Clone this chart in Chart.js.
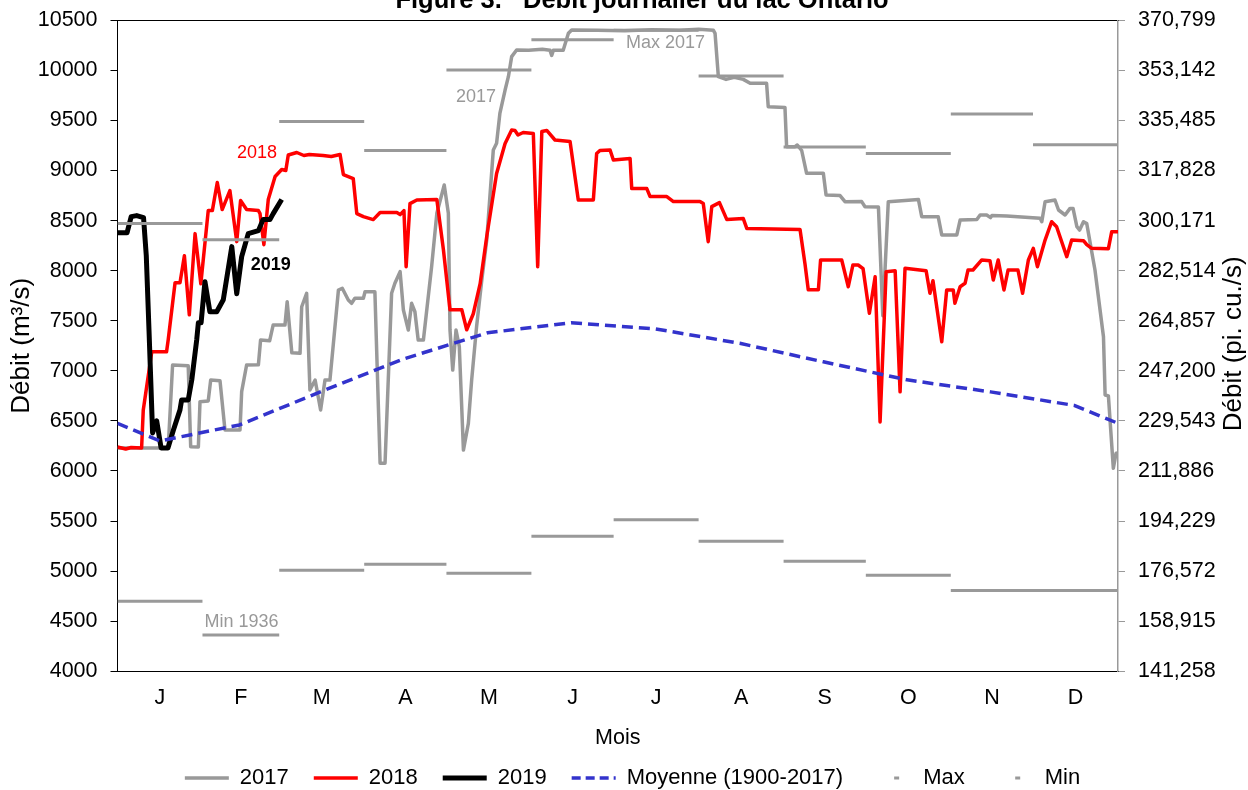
<!DOCTYPE html>
<html>
<head>
<meta charset="utf-8">
<title>Débit journalier du lac Ontario</title>
<script src="https://cdn.jsdelivr.net/npm/chart.js@4/dist/chart.umd.min.js"></script>
<style>
  html, body { margin: 0; padding: 0; background: #fff; overflow: hidden; }
  canvas { display: block; }
</style>
</head>
<body>
<canvas id="flowChart" width="1248" height="790"></canvas>
<script>
// Axis labels
const monthLabels = ['J', 'F', 'M', 'A', 'M', 'J', 'J', 'A', 'S', 'O', 'N', 'D'];
const monthStarts = [0, 31, 59, 90, 120, 151, 181, 212, 243, 273, 304, 334, 365];
const rightTickLabels = ['141,258', '158,915', '176,572', '194,229', '211,886', '229,543', '247,200',
    '264,857', '282,514', '300,171', '317,828', '335,485', '353,142', '370,799'];

// 2017 daily flow (m3/s), day of year
const days2017 = [0, 9.4, 18.5, 20.1, 25.8, 26.7, 29.5, 30.1, 33.1, 34,
    37.4, 39.2, 44.7, 45.3, 47.1, 51.4, 52.2, 55.5, 56.8, 61.1,
    61.9, 63.6, 66.6, 67.2, 69, 70.2, 72.1, 74.1, 75.7, 77.5,
    80.6, 82, 84.2, 85.4, 86.6, 89.7, 90.3, 93.9, 95.8, 97.6,
    100, 101.2, 103.1, 104.3, 106.1, 107.3, 108.5, 109.7, 111.6, 114.6,
    116.5, 119.2, 120.7, 121.3, 122.3, 123.5, 124.7, 126.2, 128, 129.2,
    131, 132.9, 134.7, 137.1, 138.3, 139.5, 141.4, 142.6, 143.8, 145.6,
    150, 155, 157.8, 158.4, 159, 162.6, 164.5, 165.7, 175, 185,
    195, 205, 212, 217.4, 218, 219.2, 222, 225, 228.3, 230.8,
    236.8, 237.4, 243.5, 244.1, 247.2, 248, 249.6, 251.4, 257.5, 258.5,
    263.6, 265.4, 271.5, 272.7, 277.6, 279.2, 281.2, 292.2, 293.4, 299.4,
    300.7, 306.2, 307.4, 313.5, 314.7, 317.1, 318.5, 319, 324.4, 336.6,
    337.2, 338.4, 342, 343.3, 345.7, 347.5, 348.6, 350, 351, 352.4,
    353.6, 356.6, 359.7, 360.3, 361.5, 363.3, 364.3, 365];
const flow2017 = [6230, 6230, 6230, 7058, 7050, 6242, 6240, 6692, 6700, 6908,
    6900, 6410, 6410, 6792, 7058, 7060, 7308, 7300, 7458, 7458,
    7690, 7180, 7175, 7640, 7774, 6809, 6908, 6609, 6908, 6908,
    7807, 7824, 7707, 7674, 7724, 7724, 7790, 7790, 6077, 6077,
    7774, 7874, 7990, 7607, 7408, 7674, 7590, 7308, 7308, 8040,
    8573, 8856, 8573, 7408, 7008, 7408, 7241, 6209, 6476, 6908,
    7441, 7907, 8306, 9205, 9272, 9571, 9804, 9937, 10137, 10203,
    10200, 10210, 10200, 10150, 10200, 10200, 10370, 10403, 10400, 10395,
    10405, 10400, 10410, 10400, 10370, 9937, 9910, 9930, 9910, 9871,
    9871, 9637, 9630, 9238, 9238, 9255, 9200, 8972, 8972, 8756,
    8750, 8689, 8690, 8639, 8635, 7550, 8689, 8710, 8539, 8539,
    8357, 8357, 8506, 8510, 8556, 8556, 8530, 8550, 8545, 8523,
    8489, 8689, 8706, 8606, 8556, 8622, 8622, 8439, 8406, 8489,
    8470, 8007, 7341, 6759, 6750, 6027, 6177, 6180];

// 2018 daily flow
const days2018 = [0, 3, 5, 8.8, 9.4, 12.5, 17.9, 18.5, 21, 22.8,
    24.4, 26.2, 28.3, 30.4, 33.1, 34.6, 36.4, 38.2, 41, 43.5,
    44.9, 47.1, 51.4, 52, 53.4, 55, 57.5, 59.9, 61.4, 62.3,
    65.4, 68, 70, 75, 78, 81.2, 82.4, 86, 87.3, 89.7,
    93.3, 95.8, 101.9, 103.1, 104.5, 105.3, 106.7, 109.2, 116.5, 118.9,
    121.3, 125.6, 127.4, 129.8, 132.3, 134.7, 138.3, 141.4, 143.8, 145,
    146.1, 148, 151.7, 153.3, 154.8, 156.6, 159.6, 165.1, 168.1, 173.6,
    174.8, 176, 179.7, 180.9, 187, 187.6, 193.1, 194.3, 200.4, 202.8,
    212.5, 213.7, 215.5, 216.8, 219.6, 222.3, 228.3, 229.6, 249, 250.8,
    252, 255.7, 256.5, 264.2, 266.6, 268.3, 270.2, 272, 274.3, 276.4,
    278.2, 280.4, 283.7, 285.5, 287.3, 295, 296.4, 297.5, 300.7, 302.5,
    304.9, 305.5, 307.4, 309.2, 310.3, 312.1, 315.3, 318.3, 319.5, 321.3,
    323.4, 324.9, 328.5, 330.2, 332.3, 334.1, 335.6, 338.4, 340.8, 342.6,
    346.3, 348.1, 352.4, 353.6, 355.4, 361.5, 362.7, 365];
const flow2018 = [6240, 6220, 6235, 6230, 6610, 7190, 7190, 7310, 7880, 7880,
    8150, 7560, 8370, 7870, 8600, 8600, 8880, 8610, 8800, 8290,
    8700, 8610, 8600, 8570, 8260, 8710, 8940, 9010, 9000, 9155,
    9180, 9150, 9160, 9150, 9140, 9160, 8960, 8920, 8570, 8540,
    8510, 8580, 8580, 8560, 8600, 8040, 8670, 8706, 8710, 8210,
    7610, 7610, 7410, 7570, 7870, 8340, 8970, 9270, 9405, 9400,
    9355, 9380, 9370, 8040, 9390, 9400, 9305, 9290, 8706, 8706,
    9170, 9200, 9205, 9105, 9120, 8820, 8820, 8740, 8740, 8690,
    8690, 8670, 8290, 8640, 8680, 8510, 8520, 8420, 8410, 8070,
    7810, 7810, 8107, 8107, 7840, 8057, 8057, 8020, 7574, 7940,
    6490, 7990, 8000, 6790, 8024, 8000, 7774, 7900, 7290, 7807,
    7807, 7674, 7840, 7874, 8007, 8007, 8107, 8100, 7907, 8107,
    7807, 8007, 8007, 7774, 8107, 8223, 8040, 8306, 8489, 8439,
    8140, 8306, 8300, 8260, 8223, 8220, 8389, 8389];

// 2019 daily flow (to date)
const days2019 = [0, 3.5, 5, 7, 9.5, 10.5, 11.5, 12.8, 14.3, 15.9,
    18.4, 20.4, 22.8, 23.4, 25.8, 27.1, 28.9, 29.5, 30.5, 31.9,
    33.7, 36.2, 38.6, 41.7, 43.5, 45.3, 47.7, 51.4, 53.1, 55.6,
    56.8, 59.9];
const flow2019 = [8380, 8380, 8540, 8550, 8530, 8150, 7400, 6380, 6500, 6230,
    6230, 6410, 6610, 6710, 6710, 6910, 7310, 7480, 7480, 7890,
    7590, 7590, 7710, 8240, 7770, 8140, 8370, 8400, 8510, 8510,
    8570, 8710];

// Long-term mean 1900-2017
const meanDays = [0, 15.5, 44.5, 74, 104.5, 135, 165.5, 196, 227, 257.5, 288, 318.5, 349, 365];
const meanFlow = [6476, 6300, 6460, 6790, 7120, 7380, 7480, 7420, 7275, 7090, 6910, 6790, 6655, 6476];

// Monthly extremes
const maxMonthly = [8470, 8310, 9490, 9200, 10005, 10305, 10400, 9945, 9235, 9170, 9565, 9258];
const minMonthly = [4700, 4362, 5008, 5068, 4978, 5348, 5514, 5298, 5098, 4958, 4808, 4808];

// Text labels inside the plot
const notes = [
    { text: '2018', day: 43.6, value: 9172, color: '#ff0000', bold: false },
    { text: '2019', day: 48.6, value: 8057, color: '#000000', bold: true },
    { text: '2017', day: 123.5, value: 9737, color: '#999999', bold: false },
    { text: 'Max 2017', day: 185.5, value: 10270, color: '#999999', bold: false },
    { text: 'Min 1936', day: 31.7, value: 4492, color: '#999999', bold: false }
];

const FONT = '"Liberation Sans", Arial, sans-serif';
Chart.defaults.font.family = FONT;
Chart.defaults.font.size = 21.5;
Chart.defaults.color = '#000';

function toPoints(days, flows) {
    return days.map((d, i) => ({ x: d, y: flows[i] }));
}

// one flat segment per month, broken by a null
function monthSegments(values) {
    const pts = [];
    values.forEach((v, i) => {
        pts.push({ x: monthStarts[i], y: v });
        pts.push({ x: monthStarts[i + 1], y: v });
        pts.push({ x: monthStarts[i + 1], y: null });
    });
    return pts;
}

// keep the tick label overhang from pushing the plot area around
function noPadding(scale) {
    scale.paddingTop = 0;
    scale.paddingBottom = 0;
    scale.paddingLeft = 0;
    scale.paddingRight = 0;
}

const plotText = {
    id: 'plotText',
    afterDatasetsDraw(chart) {
        const { ctx, scales } = chart;
        ctx.save();
        ctx.textAlign = 'left';
        ctx.textBaseline = 'middle';
        notes.forEach(n => {
            ctx.font = (n.bold ? 'bold ' : '') + '18px ' + FONT;
            ctx.fillStyle = n.color;
            ctx.fillText(n.text, scales.x.getPixelForValue(n.day), scales.y.getPixelForValue(n.value));
        });
        ctx.restore();
    },
    afterDraw(chart) {
        const { ctx, chartArea } = chart;
        ctx.save();
        // figure title (cut by the top edge)
        ctx.font = 'bold 25.5px ' + FONT;
        ctx.fillStyle = '#000';
        ctx.textAlign = 'center';
        ctx.textBaseline = 'alphabetic';
        ctx.fillText('Figure 3.   Débit journalier du lac Ontario', 642, 7.5);
        // right axis title, reads bottom to top like the left one
        ctx.translate(1234, (chartArea.top + chartArea.bottom) / 2 - 2);
        ctx.rotate(-Math.PI / 2);
        ctx.font = '26px ' + FONT;
        ctx.textBaseline = 'middle';
        ctx.fillText('Débit (pi. cu./s)', 0, 0);
        ctx.restore();
    }
};

const ctx = document.getElementById('flowChart');
new Chart(ctx, {
    type: 'line',
    data: {
        datasets: [
            {
                label: '2017',
                data: toPoints(days2017, flow2017),
                borderColor: '#999999',
                borderWidth: 3.5,
                order: 6
            },
            {
                label: '2018',
                data: toPoints(days2018, flow2018),
                borderColor: '#ff0000',
                borderWidth: 3.5,
                order: 5
            },
            {
                label: '2019',
                data: toPoints(days2019, flow2019),
                borderColor: '#000000',
                borderWidth: 5,
                order: 4
            },
            {
                label: 'Moyenne (1900-2017)',
                data: toPoints(meanDays, meanFlow),
                borderColor: '#3333cc',
                borderWidth: 3.5,
                borderDash: [11, 6],
                legendDash: [9, 5],
                order: 3
            },
            {
                label: 'Max',
                data: monthSegments(maxMonthly),
                borderColor: '#999999',
                borderWidth: 3,
                borderJoinStyle: 'miter',
                borderCapStyle: 'butt',
                legendDash: [0, 26, 5, 200],
                order: 2
            },
            {
                label: 'Min',
                data: monthSegments(minMonthly),
                borderColor: '#999999',
                borderWidth: 3,
                borderJoinStyle: 'miter',
                borderCapStyle: 'butt',
                legendDash: [0, 25.5, 5, 200],
                order: 1
            }
        ]
    },
    options: {
        responsive: false,
        animation: false,
        devicePixelRatio: 1,
        spanGaps: false,
        elements: {
            point: { radius: 0, hoverRadius: 0 },
            line: { tension: 0, borderJoinStyle: 'round', fill: false }
        },
        layout: {
            padding: { top: 20.3, left: 0, right: -17, bottom: -9 }
        },
        plugins: {
            title: { display: false },
            tooltip: { enabled: false },
            legend: {
                position: 'bottom',
                labels: {
                    usePointStyle: true,
                    pointStyleWidth: 44,
                    padding: 25,
                    color: '#000',
                    font: { size: 22 },
                    generateLabels(chart) {
                        return chart.data.datasets.map((ds, i) => ({
                            text: ds.label,
                            datasetIndex: i,
                            strokeStyle: ds.borderColor,
                            fillStyle: ds.borderColor,
                            lineWidth: ds.borderWidth,
                            lineDash: ds.legendDash || [],
                            pointStyle: 'line',
                            hidden: false
                        }));
                    }
                }
            }
        },
        scales: {
            x: {
                type: 'linear',
                position: 'bottom',
                min: 0,
                max: 365,
                afterBuildTicks(scale) {
                    scale.ticks = monthLabels.map((m, i) => ({ value: (monthStarts[i] + monthStarts[i + 1]) / 2 }));
                },
                afterFit(scale) { scale.height = 70.7; noPadding(scale); },
                grid: { display: false, drawTicks: false },
                border: { color: '#000', width: 1 },
                ticks: {
                    autoSkip: false,
                    maxRotation: 0,
                    padding: 14,
                    callback: (v, i) => monthLabels[i]
                },
                title: {
                    display: true,
                    text: 'Mois',
                    font: { size: 21.5, lineHeight: 1 },
                    padding: { top: 0, bottom: -6.75 }
                }
            },
            x2: {
                type: 'linear',
                position: 'top',
                min: 0,
                max: 365,
                afterFit(scale) { scale.height = 0; noPadding(scale); },
                grid: { display: false, drawTicks: false },
                border: { color: '#000', width: 1 },
                ticks: { display: false }
            },
            y: {
                type: 'linear',
                position: 'left',
                min: 4000,
                max: 10500,
                afterFit(scale) { scale.width = 117.5; noPadding(scale); },
                grid: { drawOnChartArea: false, color: '#000', tickLength: 7 },
                border: { color: '#000', width: 1 },
                ticks: { stepSize: 500, padding: 13, callback: v => String(v) },
                title: {
                    display: true,
                    text: 'Débit (m³/s)',
                    font: { size: 26, lineHeight: 1 },
                    padding: { top: 9, bottom: 0 }
                }
            },
            y2: {
                type: 'linear',
                position: 'right',
                min: 4000,
                max: 10500,
                afterFit(scale) { scale.width = 147; noPadding(scale); },
                grid: { drawOnChartArea: false, color: '#999999', tickLength: 7 },
                border: { color: '#999999', width: 1.5 },
                ticks: {
                    stepSize: 500,
                    padding: 13,
                    callback: (v, i) => rightTickLabels[i]
                }
            }
        }
    },
    plugins: [plotText]
});
</script>
</body>
</html>
